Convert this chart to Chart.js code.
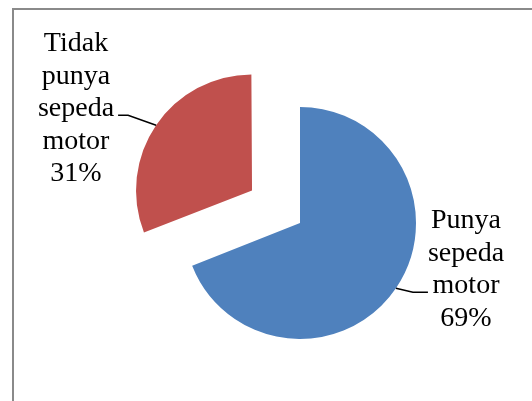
<!DOCTYPE html>
<html>
<head>
<meta charset="utf-8">
<script src="https://cdn.jsdelivr.net/npm/chart.js@4"></script>
<style>
  html, body { margin: 0; padding: 0; background: #fff; overflow: hidden; }
  #wrap { position: relative; width: 532px; height: 401px; }
  #frame {
    position: absolute; left: 12px; top: 8px;
    width: 600px; height: 500px;
    border-left: 2px solid #8a8a8a; border-top: 2px solid #8a8a8a;
  }
  #chart { position: absolute; left: 0; top: 0; }
</style>
</head>
<body>
<div id="wrap">
  <div id="frame"></div>
  <canvas id="chart" width="532" height="401"></canvas>
</div>
<script>
// ── Data ──
const categories = ['Punya sepeda motor', 'Tidak punya sepeda motor'];
const values = [69, 31];
const labelLines = [['Punya', 'sepeda', 'motor'], ['Tidak', 'punya', 'sepeda', 'motor']];

// ── Style ──
const blue = '#4F81BD';
const red = '#C0504D';
const pieRadius = 116;
const explode = 58;           // px the second slice is pulled out
const fontSpec = "28px 'Liberation Serif'";
const lineH = 32.4;
// leader line per slice: end offset from edge point, horizontal run, side
const leaders = [
  { dx: 32, dy: 4, run: 15, side: 'right' },
  { dx: -38, dy: -10, run: 10, side: 'left' }
];

// Chart.js grows an exploded arc's radius a little; undo that so both slices match
const keepRadius = {
  id: 'keepRadius',
  afterDatasetsUpdate(chart) {
    chart.getDatasetMeta(0).data.forEach(arc => {
      const off = (arc.options.offset || 0) / 4;
      const fix = 1 - Math.sin(Math.min(Math.PI, arc.circumference));
      arc.outerRadius = pieRadius - off * fix;
    });
  }
};

const pieLabels = {
  id: 'pieLabels',
  afterDatasetsDraw(chart) {
    const ctx = chart.ctx;
    const meta = chart.getDatasetMeta(0);
    const total = values.reduce((a, b) => a + b, 0);
    ctx.save();
    ctx.font = fontSpec;
    ctx.fillStyle = '#000';
    ctx.strokeStyle = '#000';
    ctx.lineWidth = 1.5;
    meta.data.forEach((arc, i) => {
      const { x, y, startAngle, endAngle } = arc;
      const mid = (startAngle + endAngle) / 2;
      const off = (arc.options.offset || 0) / 4;
      const ex = x + Math.cos(mid) * (off + pieRadius);
      const ey = y + Math.sin(mid) * (off + pieRadius);
      const L = leaders[i];
      const endX = ex + L.dx;
      const kx = endX + (L.side === 'right' ? -L.run : L.run);
      const ky = ey + L.dy;
      ctx.beginPath();
      ctx.moveTo(ex, ey);
      ctx.lineTo(kx, ky);
      ctx.lineTo(endX, ky);
      ctx.stroke();

      const pct = Math.round(values[i] / total * 100) + '%';
      const lines = labelLines[i].concat([pct]);
      const maxW = Math.max(...lines.map(s => ctx.measureText(s).width));
      const cx = L.side === 'right' ? endX + maxW / 2 : endX - 4 - maxW / 2;
      const firstBase = ky + 1 - 2 * lineH;
      ctx.textAlign = 'center';
      ctx.textBaseline = 'alphabetic';
      lines.forEach((s, j) => ctx.fillText(s, cx, firstBase + j * lineH));
    });
    ctx.restore();
  }
};

new Chart(document.getElementById('chart'), {
  type: 'pie',
  data: {
    labels: categories,
    datasets: [{
      data: values,
      backgroundColor: [blue, red],
      borderWidth: 0,
      offset: [0, explode * 4],
      radius: pieRadius
    }]
  },
  options: {
    responsive: false,
    animation: false,
    layout: { padding: { left: 150, right: 82, top: 73, bottom: 28 } },
    plugins: { legend: { display: false }, tooltip: { enabled: false } }
  },
  plugins: [keepRadius, pieLabels]
});
</script>
</body>
</html>
